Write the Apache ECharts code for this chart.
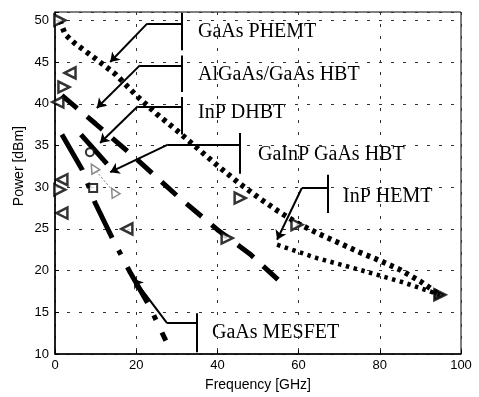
<!DOCTYPE html>
<html>
<head>
<meta charset="utf-8">
<script src="https://cdn.jsdelivr.net/npm/echarts@6/dist/echarts.min.js"></script>
<style>
  html, body { margin: 0; padding: 0; background: #fff; }
  #chart { width: 479px; height: 397px; }
</style>
</head>
<body>
<div id="chart"></div>
<script>
// Frequency [GHz] / Power [dBm]
const phemtFreq = [1.2, 2.5, 5, 10, 15, 20, 25, 30, 35, 40, 45, 50, 55, 60, 65, 70, 75, 80, 85, 90, 94.8]
const phemtPower = [50, 48.3, 47.2, 45.4, 43.5, 41.0, 38.8, 36.8, 34.7, 32.6, 30.6, 28.8, 27.1, 25.6, 24.4, 23.3, 22.2, 21.2, 20.1, 18.7, 17.1]

const hemtFreq = [54.7, 64.5, 75, 85.7, 94.8]
const hemtPower = [23.1, 21.5, 20.1, 18.6, 17.1]

const hbtFreq = [1.7, 10, 20, 30, 40, 48, 57]
const hbtPower = [41, 37.6, 33.4, 29.0, 24.9, 22.0, 18.0]

const mesfetFreq = [1.7, 6.7, 9.9, 14.3, 18.5, 23.4, 27.3]
const mesfetPower = [36.3, 32.1, 28.1, 23.7, 19.8, 15.6, 11.6]

const gainpFreq = [6.4, 12.8]
const gainpPower = [36.3, 32.8]

const greyFreq = [9.5, 14.5]
const greyPower = [32.3, 29.4]

// individual device points
const rightTriFreq = [1.2, 2.2, 1.2, 45.6, 42.4, 59.6]
const rightTriPower = [50, 42, 29.7, 28.7, 23.9, 25.5]
const leftTriFreq = [3.7, 0.7, 1.7, 1.7, 17.7]
const leftTriPower = [43.7, 40.2, 30.9, 26.9, 25]
const circleFreq = [8.6]
const circlePower = [34.2]
const squareFreq = [9.4]
const squarePower = [29.9]
const endFreq = [94.8]
const endPower = [17.1]

const xTicks = [0, 20, 40, 60, 80, 100]
const yTicks = [10, 15, 20, 25, 30, 35, 40, 45, 50]

// callout brackets, in data units: bar = [x, yTop, yBottom]
const callouts = [
  { text: 'GaAs PHEMT', bar: [31.3, 50.9, 46.4], elbow: [22.7, 49.6], tip: [13.6, 45.0] },
  { text: 'AlGaAs/GaAs HBT', bar: [31.3, 45.8, 41.4], elbow: [20.9, 44.6], tip: [10.3, 39.5] },
  { text: 'InP DHBT', bar: [31.3, 40.8, 36.3], elbow: [20.4, 39.7], tip: [11.1, 35.3] },
  { text: 'GaInP GaAs HBT', bar: [45.6, 36.5, 31.6], elbow: [27.8, 35.1], tip: [13.6, 31.8] },
  { text: 'InP HEMT', bar: [67.2, 31.5, 26.9], elbow: [60.8, 29.9], tip: [54.7, 23.7] },
  { text: 'GaAs MESFET', bar: [35.0, 14.9, 10.2], elbow: [27.6, 13.7], tip: [19.4, 19.0] }
]
const labelPos = [[198, 32], [198, 75], [198, 113], [258, 155], [343, 197], [212, 333]]

const zip = (a, b) => a.map((v, i) => [v, b[i]])

const chart = echarts.init(document.getElementById('chart'))

const plainSegs = []
const arrowSegs = []
callouts.forEach(c => {
  plainSegs.push({ coords: [[c.bar[0], c.bar[1]], [c.bar[0], c.bar[2]]] })
  plainSegs.push({ coords: [[c.bar[0], c.elbow[1]], c.elbow] })
  arrowSegs.push({ coords: [c.elbow, c.tip] })
})

const serif = '"Liberation Serif", "Times New Roman", serif'
const sans = '"Liberation Sans", Arial, sans-serif'

const triangle = (name, f, p, rot, filled) => ({
  name,
  type: 'scatter',
  symbol: 'triangle',
  symbolSize: 11,
  symbolRotate: rot,
  itemStyle: { color: filled ? '#000' : '#fff', borderColor: '#000', borderWidth: 2.5 },
  z: 5,
  data: zip(f, p)
})

chart.setOption({
  animation: false,
  backgroundColor: '#fff',
  grid: {
    left: 55, right: 18, top: 12, bottom: 43,
    show: true, borderColor: '#000', borderWidth: 1
  },
  xAxis: {
    type: 'value',
    min: xTicks[0],
    max: xTicks[xTicks.length - 1],
    interval: 20,
    name: 'Frequency [GHz]',
    nameLocation: 'middle',
    nameGap: 24,
    nameTextStyle: { color: '#000', fontSize: 14, fontFamily: sans },
    axisLine: { lineStyle: { color: '#000', width: 1.5 } },
    axisTick: { inside: true, length: 4, lineStyle: { color: '#000' } },
    axisLabel: { color: '#000', fontSize: 13, fontFamily: sans, margin: 5 },
    splitLine: { show: true, lineStyle: { color: '#333', width: 1, type: [3, 9] } }
  },
  yAxis: {
    type: 'value',
    min: yTicks[0],
    max: 51,
    interval: 5,
    axisLine: { show: true, lineStyle: { color: '#000', width: 1.5 } },
    axisTick: { inside: true, length: 4, lineStyle: { color: '#000' } },
    axisLabel: {
      color: '#000', fontSize: 13, fontFamily: sans, margin: 6,
      formatter: v => (yTicks.includes(v) ? String(v) : '')
    },
    splitLine: { show: true, lineStyle: { color: '#333', width: 1, type: [3, 9] } }
  },
  graphic: [
    {
      type: 'text', left: 12, top: 126, rotation: Math.PI / 2,
      style: { text: 'Power [dBm]', fill: '#000', font: '14px ' + sans }
    }
  ].concat(callouts.map((c, i) => ({
    type: 'text',
    x: labelPos[i][0],
    y: labelPos[i][1],
    style: { text: c.text, fill: '#000', font: '20px ' + serif, textVerticalAlign: 'middle' }
  }))),
  series: [
    {
      name: 'GaAs PHEMT',
      type: 'line',
      symbol: 'none',
      lineStyle: { color: '#000', width: 5.5, type: [4, 4.5] },
      data: zip(phemtFreq, phemtPower)
    },
    {
      name: 'InP HEMT',
      type: 'line',
      symbol: 'none',
      lineStyle: { color: '#000', width: 4.5, type: [3.5, 4.5] },
      data: zip(hemtFreq, hemtPower)
    },
    {
      name: 'AlGaAs/GaAs HBT',
      type: 'line',
      symbol: 'none',
      lineStyle: { color: '#000', width: 5, type: [20, 13] },
      data: zip(hbtFreq, hbtPower)
    },
    {
      name: 'GaAs MESFET',
      type: 'line',
      symbol: 'none',
      lineStyle: { color: '#000', width: 5, type: [41, 14, 5, 14] },
      data: zip(mesfetFreq, mesfetPower)
    },
    {
      name: 'GaInP GaAs HBT',
      type: 'line',
      symbol: 'none',
      lineStyle: { color: '#000', width: 5 },
      data: zip(gainpFreq, gainpPower)
    },
    {
      name: 'grey',
      type: 'line',
      symbol: 'triangle',
      symbolSize: 9,
      symbolRotate: 30,
      itemStyle: { color: '#fff', borderColor: '#888', borderWidth: 1.5 },
      lineStyle: { color: '#777', width: 1, type: [2, 2] },
      data: zip(greyFreq, greyPower)
    },
    triangle('right', rightTriFreq, rightTriPower, -90, false),
    triangle('left', leftTriFreq, leftTriPower, 90, false),
    triangle('end', endFreq, endPower, -90, true),
    {
      name: 'circle',
      type: 'scatter',
      symbol: 'circle',
      symbolSize: 8,
      itemStyle: { color: '#fff', borderColor: '#000', borderWidth: 2 },
      z: 5,
      data: zip(circleFreq, circlePower)
    },
    {
      name: 'square',
      type: 'scatter',
      symbol: 'rect',
      symbolSize: 8,
      itemStyle: { color: '#fff', borderColor: '#000', borderWidth: 2 },
      z: 5,
      data: zip(squareFreq, squarePower)
    },
    {
      name: 'callout',
      type: 'lines',
      coordinateSystem: 'cartesian2d',
      lineStyle: { color: '#000', width: 2, opacity: 1 },
      data: plainSegs
    },
    {
      name: 'callout-arrow',
      type: 'lines',
      coordinateSystem: 'cartesian2d',
      symbol: ['none', 'arrow'],
      symbolSize: 9,
      lineStyle: { color: '#000', width: 2, opacity: 1 },
      data: arrowSegs
    }
  ]
})
</script>
</body>
</html>
